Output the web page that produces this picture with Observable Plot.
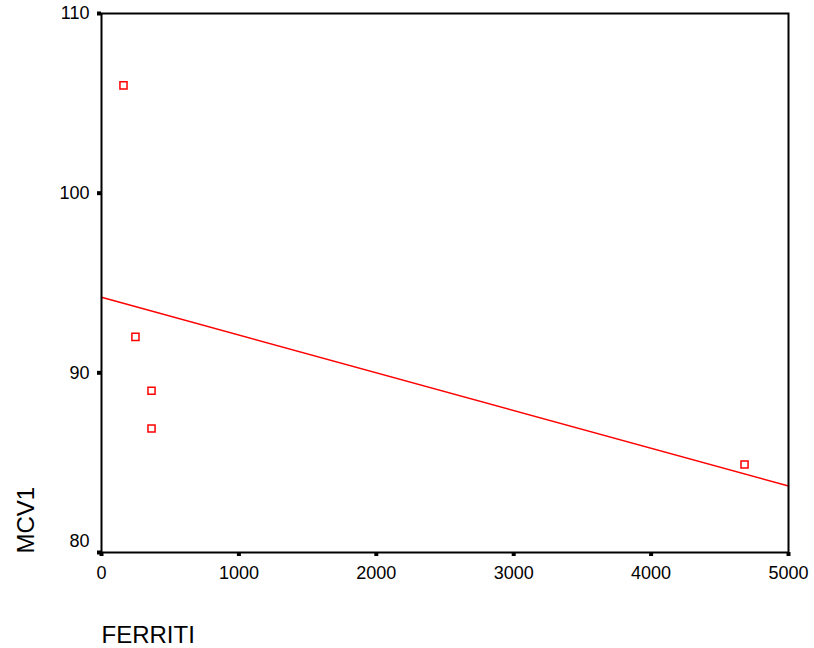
<!DOCTYPE html>
<html>
<head>
<meta charset="utf-8">
<script src="https://cdn.jsdelivr.net/npm/d3@7"></script>
<script src="https://cdn.jsdelivr.net/npm/@observablehq/plot@0.6"></script>
<style>
  html, body { margin: 0; padding: 0; background: #fff; }
  #chart svg { font-family: "Liberation Sans", Arial, sans-serif; }
</style>
</head>
<body>
<div id="chart"></div>
<script>
const ferritin = [160, 247, 364, 364, 4680];
const mcv1 = [106.0, 92.0, 89.0, 86.9, 84.9];
const xTicks = [0, 1000, 2000, 3000, 4000, 5000];
const yTicks = [80, 90, 100, 110];
const xDomain = [0, 5000];
const yDomain = [80, 110];
const xLabel = "FERRITI";
const yLabel = "MCV1";

const data = ferritin.map((f, i) => ({ferritin: f, mcv1: mcv1[i]}));

// least-squares fit computed from the data, drawn across the x domain
const mx = d3.mean(ferritin), my = d3.mean(mcv1);
const slope = d3.sum(ferritin, (x, i) => (x - mx) * (mcv1[i] - my)) / d3.sum(ferritin, x => (x - mx) ** 2);
const intercept = my - slope * mx;
const fitLine = xDomain.map(x => ({ferritin: x, mcv1: intercept + slope * x}));

const yUpper = yTicks.filter(t => t !== yDomain[0]);
const yLowest = yTicks.filter(t => t === yDomain[0]);

const chart = Plot.plot({
  width: 814,
  height: 648,
  marginTop: 13,
  marginLeft: 101,
  marginRight: 26,
  marginBottom: 96,
  style: {background: "#fff", color: "#000", fontFamily: "'Liberation Sans', Arial, sans-serif"},
  x: {domain: xDomain},
  y: {domain: yDomain},
  marks: [
    Plot.line(fitLine, {x: "ferritin", y: "mcv1", stroke: "#ff0000", strokeWidth: 1.5}),
    Plot.dot(data, {x: "ferritin", y: "mcv1", symbol: "square", r: 4, stroke: "#ff0000", fill: "#fff", strokeWidth: 1.5}),
    Plot.frame({stroke: "#000", strokeWidth: 2}),
    Plot.axisX({ticks: xTicks, tickSize: 4, tickPadding: 10, strokeWidth: 4, fontSize: 18, label: null, tickFormat: d => String(d)}),
    Plot.axisY({ticks: yTicks, tickSize: 4, strokeWidth: 4, label: null, tickFormat: () => ""}),
    Plot.axisY({ticks: yUpper, tickSize: 0, tickPadding: 12, fontSize: 18, label: null, tickFormat: d => String(d)}),
    Plot.axisY({ticks: yLowest, tickSize: 0, tickPadding: 12, dy: -11, fontSize: 18, label: null, tickFormat: d => String(d)}),
    Plot.text([xLabel], {frameAnchor: "bottom-left", text: d => d, textAnchor: "start", lineAnchor: "bottom", dy: 90, fontSize: 24, fill: "#000"}),
    Plot.text([yLabel], {frameAnchor: "bottom-left", text: d => d, textAnchor: "start", lineAnchor: "bottom", rotate: -90, dx: -68, dy: 1, fontSize: 24, fill: "#000"})
  ]
});
document.getElementById("chart").appendChild(chart);
</script>
</body>
</html>
